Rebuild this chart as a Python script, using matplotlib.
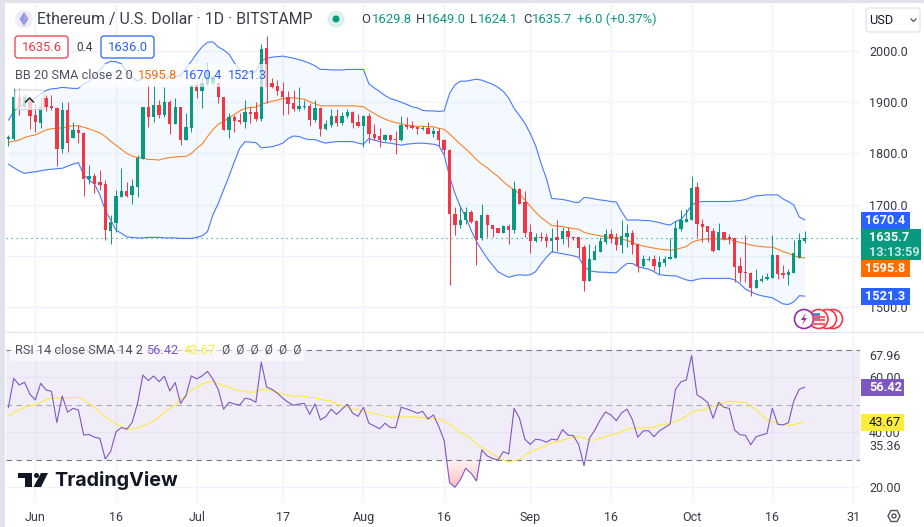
import numpy as np
import matplotlib
matplotlib.use('Agg')
import matplotlib.pyplot as plt
from matplotlib.patches import Rectangle, FancyBboxPatch, Circle, Polygon, PathPatch
from matplotlib.path import Path

plt.rcParams['font.family'] = ['Roboto', 'DejaVu Sans']

# days counted from 1 June, first candle is 27 May
first_day = -5

opens = [1829, 1829, 1911, 1891, 1904, 1875, 1860, 1909, 1893, 1889,
         1809, 1885, 1831, 1846, 1840, 1750, 1755, 1745, 1740, 1649,
         1665, 1715, 1727, 1719, 1735, 1790, 1891, 1872, 1895, 1875,
         1901, 1857, 1891, 1826, 1850, 1934, 1922, 1936, 1937, 1937,
         1910, 1846, 1872, 1865, 1862, 1881, 1880, 1868, 2005, 1938,
         1932, 1922, 1911, 1899, 1887, 1891,
         1893, 1865, 1888, 1848, 1855, 1873, 1860, 1873, 1881, 1861,
         1853, 1873, 1838, 1834, 1826, 1836, 1828, 1826, 1855, 1854,
         1852, 1847, 1850, 1838, 1844, 1827, 1807, 1682, 1660, 1669,
         1686, 1668, 1634, 1680, 1661, 1654, 1645, 1658, 1650, 1730,
         1705, 1646, 1628, 1637, 1637, 1629, 1636, 1632, 1649, 1636,
         1636, 1618, 1551, 1592, 1608, 1626, 1643, 1636, 1621, 1636,
         1645, 1624, 1580, 1592, 1593, 1579, 1585, 1593, 1596, 1652,
         1666, 1670, 1735, 1663, 1658, 1648, 1611, 1647, 1636, 1635,
         1581, 1569, 1567, 1538, 1550, 1554, 1557, 1602, 1566, 1563,
         1566, 1596, 1629.8]
highs = [1836, 1927, 1927, 1917, 1907, 1898, 1911, 1914, 1914, 1890,
         1901, 1901, 1862, 1855, 1842, 1777, 1761, 1768, 1749, 1680,
         1728, 1771, 1745, 1750, 1797, 1891, 1934, 1934, 1904, 1929,
         1904, 1909, 1891, 1878, 1934, 1937, 1947, 1976, 1953, 1940,
         1910, 1878, 1875, 1878, 1905, 1891, 1901, 2013, 2029, 1947,
         1943, 1940, 1921, 1923, 1929, 1904,
         1898, 1904, 1890, 1865, 1886, 1886, 1881, 1886, 1883, 1876,
         1875, 1878, 1857, 1849, 1838, 1836, 1844, 1874, 1872, 1864,
         1852, 1854, 1861, 1852, 1849, 1829, 1808, 1696, 1697, 1696,
         1689, 1670, 1701, 1682, 1661, 1654, 1660, 1662, 1746, 1732,
         1727, 1663, 1645, 1646, 1645, 1654, 1670, 1657, 1657, 1639,
         1637, 1621, 1623, 1621, 1637, 1653, 1652, 1644, 1670, 1662,
         1650, 1624, 1602, 1599, 1602, 1599, 1599, 1634, 1668, 1689,
         1692, 1756, 1745, 1671, 1658, 1655, 1665, 1647, 1642, 1635,
         1597, 1641, 1569, 1574, 1562, 1566, 1641, 1602, 1582, 1575,
         1631, 1644, 1649]
lows = [1815, 1826, 1875, 1888, 1847, 1842, 1850, 1883, 1885, 1776,
        1800, 1803, 1830, 1820, 1717, 1740, 1722, 1728, 1631, 1623,
        1647, 1715, 1715, 1701, 1715, 1790, 1852, 1862, 1870, 1872,
        1838, 1857, 1816, 1826, 1842, 1909, 1888, 1934, 1934, 1898,
        1846, 1830, 1842, 1857, 1849, 1860, 1864, 1864, 1898, 1927,
        1915, 1875, 1877, 1882, 1882, 1886,
        1853, 1862, 1834, 1846, 1851, 1853, 1855, 1870, 1849, 1852,
        1813, 1820, 1826, 1813, 1825, 1825, 1799, 1825, 1847, 1847,
        1838, 1846, 1837, 1833, 1814, 1797, 1543, 1641, 1654, 1663,
        1665, 1582, 1630, 1636, 1636, 1645, 1645, 1623, 1644, 1701,
        1637, 1605, 1627, 1628, 1618, 1608, 1610, 1623, 1618, 1631,
        1597, 1532, 1551, 1592, 1608, 1624, 1625, 1612, 1606, 1618,
        1604, 1568, 1578, 1589, 1571, 1564, 1580, 1593, 1596, 1649,
        1666, 1670, 1637, 1626, 1626, 1608, 1611, 1631, 1623, 1549,
        1549, 1548, 1522, 1538, 1548, 1552, 1557, 1555, 1556, 1543,
        1566, 1595, 1624.1]
closes = [1832, 1911, 1890, 1911, 1873, 1861, 1891, 1890, 1888, 1809,
          1885, 1820, 1846, 1839, 1750, 1755, 1740, 1738, 1650, 1667,
          1717, 1727, 1717, 1736, 1792, 1891, 1872, 1895, 1875, 1901,
          1857, 1891, 1826, 1852, 1934, 1922, 1937, 1963, 1950, 1910,
          1846, 1872, 1864, 1861, 1881, 1877, 1868, 2003, 1929, 1929,
          1922, 1911, 1897, 1886, 1893, 1892,
          1865, 1888, 1848, 1857, 1873, 1860, 1874, 1881, 1860, 1853,
          1873, 1838, 1831, 1826, 1836, 1826, 1826, 1855, 1851, 1850,
          1847, 1850, 1838, 1844, 1827, 1807, 1682, 1660, 1670, 1686,
          1667, 1630, 1680, 1660, 1652, 1645, 1658, 1650, 1730, 1702,
          1645, 1628, 1636, 1635, 1629, 1635, 1631, 1649, 1636, 1634,
          1616, 1551, 1594, 1610, 1628, 1643, 1633, 1621, 1639, 1645,
          1621, 1580, 1593, 1594, 1580, 1588, 1594, 1597, 1654, 1670,
          1672, 1733, 1663, 1656, 1646, 1610, 1646, 1633, 1633, 1579,
          1567, 1566, 1538, 1553, 1555, 1559, 1602, 1564, 1562, 1568,
          1605, 1631, 1635.7]

bb_upper = [1865, 1882, 1891, 1898, 1902, 1908, 1916, 1923, 1926, 1927,
            1929, 1928, 1927, 1927, 1936, 1940, 1951, 1963, 1975, 1980,
            1979, 1975, 1960, 1949, 1941, 1947, 1953, 1951, 1951, 1950,
            1949, 1950, 1952, 1966, 1980, 1995, 2008, 2017, 2018, 2008,
            2002, 1994, 1977, 1963, 1958, 1956, 1960, 1981, 1986, 1988,
            1989, 1990, 1988, 1986, 1983, 1980,
            1976, 1971, 1964, 1964, 1963, 1963, 1963, 1964, 1964, 1964,
            1964, 1936, 1928, 1921, 1913, 1907, 1904, 1900, 1896, 1891,
            1889, 1884, 1883, 1883, 1882, 1883, 1917, 1934, 1941, 1941,
            1943, 1945, 1943, 1939, 1935, 1929, 1921, 1908, 1888, 1874,
            1859, 1839, 1815, 1781, 1751, 1712, 1711, 1710, 1708, 1705,
            1704, 1714, 1713, 1711, 1709, 1708,
            1706, 1705, 1686, 1670, 1670, 1670, 1669, 1669, 1667, 1665,
            1662, 1660, 1667, 1671, 1683, 1699, 1705, 1706, 1706, 1706,
            1706, 1706, 1706, 1707, 1708, 1710, 1714, 1717, 1718, 1719,
            1719, 1719, 1711, 1706, 1699, 1676, 1670.4]
bb_lower = [1779, 1772, 1766, 1761, 1763, 1764, 1766, 1768, 1769, 1770,
            1771, 1775, 1779, 1782, 1758, 1748, 1740, 1719, 1689, 1670,
            1650, 1644, 1637, 1636, 1635, 1635, 1636, 1636, 1636, 1635,
            1635, 1635, 1634, 1634, 1634, 1636, 1639, 1647, 1680, 1702,
            1729, 1755, 1784, 1810, 1823, 1822, 1821, 1811, 1812, 1813,
            1816, 1820, 1829, 1834, 1833, 1829,
            1827, 1827, 1823, 1820, 1822, 1823, 1823, 1823, 1823, 1820,
            1818, 1829, 1826, 1823, 1821, 1820, 1818, 1816, 1818, 1819,
            1820, 1820, 1819, 1818, 1815, 1797, 1755, 1722, 1696, 1676,
            1650, 1628, 1611, 1595, 1582, 1569, 1563, 1558, 1561, 1563,
            1562, 1563, 1569, 1584, 1597, 1608, 1606, 1604, 1602, 1600,
            1597, 1579, 1571, 1569, 1568, 1568,
            1567, 1567, 1577, 1585, 1585, 1579, 1576, 1574, 1569, 1563,
            1562, 1561, 1561, 1557, 1553, 1551, 1554, 1556, 1556, 1556,
            1556, 1556, 1556, 1553, 1545, 1535, 1530, 1525, 1522, 1520,
            1518, 1512, 1506, 1505, 1510, 1522, 1521.3]
bb_basis = [1821, 1824, 1826, 1831, 1834, 1836, 1841, 1846, 1848, 1849,
            1850, 1852, 1854, 1854, 1851, 1848, 1844, 1840, 1833, 1824,
            1816, 1808, 1800, 1795, 1792, 1791, 1788, 1788, 1787, 1790,
            1792, 1793, 1794, 1794, 1800, 1810, 1818, 1833, 1846, 1857,
            1862, 1870, 1876, 1883, 1888, 1890, 1890, 1896, 1899, 1902,
            1904, 1907, 1908, 1909, 1907, 1906,
            1901, 1897, 1893, 1893, 1893, 1893, 1893, 1893, 1893, 1892,
            1891, 1884, 1878, 1872, 1867, 1863, 1860, 1858, 1855, 1854,
            1853, 1853, 1852, 1852, 1849, 1847, 1838, 1828, 1818, 1809,
            1799, 1788, 1779, 1772, 1763, 1755, 1745, 1736, 1729, 1721,
            1709, 1697, 1685, 1675, 1667, 1659, 1658, 1657, 1655, 1653,
            1652, 1646, 1643, 1641, 1639, 1637,
            1636, 1635, 1633, 1630, 1626, 1622, 1619, 1617, 1615, 1613,
            1612, 1611, 1612, 1615, 1618, 1626, 1630, 1632, 1633, 1633,
            1633, 1632, 1632, 1629, 1626, 1624, 1621, 1619, 1618, 1617,
            1617, 1613, 1608, 1605, 1600, 1597, 1595.8]

rsi = [49.1, 59.6, 57.2, 58.2, 53.8, 51.8, 57.8, 55.4, 54.9, 43.6,
       53.2, 47.3, 48.7, 48.1, 39.0, 39.2, 38.2, 37.8, 30.3, 33.0,
       40.2, 41.7, 41.1, 43.6, 50.5, 60.8, 58.8, 60.5, 58.4, 60.4,
       55.0, 58.1, 50.5, 53.3, 60.5, 59.4, 60.5, 62.1, 59.4, 55.6,
       48.4, 50.9, 50.3, 49.9, 52.4, 52.0, 50.9, 65.5, 56.4, 55.6,
       54.2, 52.4, 50.9, 49.8, 50.3, 50.5, 46.5, 50.3, 44.5, 45.7,
       48.4, 46.5, 48.4, 50.2, 46.9, 45.8, 49.1, 43.3, 42.3, 41.3,
       43.3, 41.7, 41.7, 49.1, 48.5, 47.8, 46.9, 47.6, 44.8, 46.3,
       42.1, 37.0, 21.7, 20.0, 22.7, 26.9, 25.1, 22.3, 33.6, 31.4,
       30.5, 29.9, 33.0, 32.1, 48.7, 45.1, 37.5, 35.6, 37.5, 37.2,
       36.4, 37.5, 37.2, 41.0, 39.0, 38.8, 35.6, 27.8, 37.8, 40.8,
       44.5, 47.4, 46.3, 44.2, 47.1, 48.4, 44.5, 38.2, 40.5, 40.6,
       38.4, 40.5, 41.7, 43.0, 55.6, 58.3, 59.0, 67.9, 53.6, 52.4,
       50.8, 45.1, 50.9, 49.1, 48.7, 40.8, 39.1, 38.9, 35.5, 38.4,
       39.0, 39.6, 48.7, 42.9, 42.7, 43.5, 51.4, 55.6, 56.42]
rsi_ma = [45.9, 47.1, 48.1, 49.1, 49.7, 49.9, 50.9, 51.8, 52.4, 52.4,
          52.5, 52.6, 52.7, 52.7, 51.9, 50.3, 49.1, 47.3, 45.7, 44.2,
          43.0, 42.1, 41.3, 41.3, 41.5, 42.3, 43.1, 44.1, 45.5, 47.3,
          48.7, 49.9, 51.8, 53.6, 55.4, 56.4, 57.6, 58.2, 58.4, 57.6,
          57.0, 56.4, 55.6, 55.1, 54.8, 54.5, 54.7, 55.5, 55.4, 55.0,
          54.5, 53.8, 53.5, 53.0, 53.1, 53.1, 52.7, 52.6, 52.0, 51.6,
          51.4, 50.3, 49.6, 49.1, 48.5, 48.1, 47.8, 47.3, 46.9, 46.3,
          45.9, 45.5, 45.5, 45.5, 45.6, 45.7, 45.5, 45.3, 45.1, 45.0,
          44.7, 44.1, 42.9, 41.5, 39.9, 38.9, 37.8, 35.8, 34.5, 33.3,
          32.1, 30.9, 29.9, 29.1, 29.6, 30.2, 31.6, 32.8, 33.7, 34.4,
          35.3, 36.1, 36.5, 37.1, 37.7, 38.3, 38.4, 37.9, 37.1, 37.2,
          37.8, 38.5, 39.0, 39.4, 40.2, 41.1, 41.5, 41.5, 41.6, 41.6,
          41.8, 42.7, 42.8, 43.4, 44.1, 44.7, 45.9, 47.3, 47.9, 48.1,
          48.4, 49.3, 50.2, 50.7, 51.3, 51.1, 51.0, 50.9, 49.6, 48.1,
          46.3, 44.5, 44.0, 43.1, 42.8, 42.5, 42.8, 43.3, 43.67]

date_ticks = [0, 15, 30, 46, 61, 76, 92, 107, 122, 137, 152]
date_labels = ['Jun', '16', 'Jul', '17', 'Aug', '16', 'Sep', '16', 'Oct', '16', '31']
price_ticks = [1500, 1600, 1700, 1800, 1900, 2000]
price_labels = ['1500.0', '', '1700.0', '1800.0', '1900.0', '2000.0']
rsi_ticks = [20, 40, 60]
rsi_extra_ticks = [35.36, 67.96]

up_color = '#089981'
down_color = '#f23645'
blue = '#2962ff'
orange = '#ff6d00'
purple = '#7e57c2'
yellow = '#ffeb3b'
grid_color = '#f0f3fa'
text_color = '#363a45'
frame_color = '#e0e3eb'

W, H = 924, 527
fig = plt.figure(figsize=(W / 100, H / 100), dpi=100, facecolor='white')


def pane(left, top, right, bottom):
    return fig.add_axes([left / W, 1 - bottom / H, (right - left) / W, (bottom - top) / H])


ax = pane(6, 4, 860, 332)
ax2 = pane(6, 333, 860, 502)
for a in (ax, ax2):
    for s in a.spines.values():
        s.set_visible(False)
    a.set_xlim(-5.45, 153.3)
    a.set_xticks(date_ticks)
    a.yaxis.tick_right()
    a.grid(True, color=grid_color, lw=1)
    a.set_axisbelow(True)
    a.tick_params(length=0, labelsize=9, labelcolor=text_color, pad=6.5)

ax.set_ylim(1451.2, 2091.8)
ax.set_yticks(price_ticks)
ax.set_yticklabels(price_labels)
ax.tick_params(axis='x', labelbottom=False)

ax2.set_ylim(14.65, 76.1)
ax2.set_yticks(rsi_ticks)
ax2.set_yticklabels(['%.2f' % v for v in rsi_ticks])
ax2.set_yticks(rsi_extra_ticks, minor=True)
ax2.set_yticklabels(['%.2f' % v for v in rsi_extra_ticks], minor=True)
ax2.tick_params(axis='y', which='minor', length=0, labelsize=9, labelcolor=text_color, pad=6.5)
ax2.set_xticklabels(date_labels)
ax2.tick_params(axis='x', pad=6.5)

# candles
days = np.arange(len(closes)) + first_day
o = np.array(opens)
h = np.array(highs)
l = np.array(lows)
c = np.array(closes)
colors = np.where(c >= o, up_color, down_color)

ax.fill_between(days, bb_lower, bb_upper, color='#2196f3', alpha=0.05, lw=0, zorder=1)
ax.plot(days, bb_upper, color=blue, lw=0.8, alpha=0.85, zorder=2)
ax.plot(days, bb_lower, color=blue, lw=0.8, alpha=0.85, zorder=2)
ax.plot(days, bb_basis, color=orange, lw=0.8, alpha=0.85, zorder=2)
ax.vlines(days, l, h, colors=colors, lw=0.7, zorder=3)
ax.bar(days, np.abs(c - o), bottom=np.minimum(o, c), width=0.62, color=colors, lw=0, zorder=4)
ax.axhline(closes[-1], color=up_color, lw=0.8, ls=(0, (1, 3.5)), zorder=5)

# rsi pane
ax2.axhspan(30, 70, color=purple, alpha=0.1, lw=0, zorder=1)
for lev, col in ((70, '#787b86'), (50, '#a9abb3'), (30, '#787b86')):
    ax2.axhline(lev, color=col, lw=0.8, ls=(0, (5, 4)), zorder=2)

# red gradient under the oversold level, clipped to the part of the line below 30
rsi_arr = np.array(rsi)
fill = ax2.fill_between(days, rsi_arr, 30, where=rsi_arr < 30, interpolate=True, color='none', lw=0)
rgba = np.zeros((64, 1, 4))
rgba[..., :3] = matplotlib.colors.to_rgb(down_color)
rgba[..., 3] = np.linspace(0.05, 0.32, 64).reshape(-1, 1)
im = ax2.imshow(rgba, extent=[days[0], days[-1], 20, 30], origin='upper', aspect='auto', zorder=2)
clip = fill.get_paths()[0]
im.set_clip_path(PathPatch(clip, transform=ax2.transData))
ax2.set_xlim(-5.45, 153.3)
ax2.set_ylim(14.65, 76.1)

ax2.plot(days, rsi_ma, color=yellow, lw=0.8, zorder=3)
ax2.plot(days, rsi, color=purple, lw=0.8, zorder=4)

# everything else sits on an overlay in pixel coordinates
ov = fig.add_axes([0, 0, 1, 1], facecolor='none')
ov.set_xlim(0, W)
ov.set_ylim(H, 0)
ov.axis('off')


def rect(x0, y0, x1, y1, color, **kw):
    ov.add_patch(Rectangle((x0, y0), x1 - x0, y1 - y0, color=color, lw=0, **kw))


def label(x, y, s, color=text_color, size=9, ha='left', **kw):
    return ov.text(x, y, s, color=color, fontsize=size, ha=ha, va='center', **kw)


rect(0, 0, W, 3, frame_color)
rect(0, 0, 5, H, frame_color)
rect(6, 332, W, 333.3, frame_color)

# title row
ov.add_patch(Circle((24, 19), 9, color='#eceef6', lw=0))
ov.add_patch(Polygon([(24, 12), (28.5, 19), (24, 26), (19.5, 19)], color='#8f9be8', lw=0))
ov.add_patch(Polygon([(24, 12), (28.5, 19), (24, 21)], color='#b39ddb', lw=0))
label(37, 19.5, 'Ethereum / U.S. Dollar · 1D · BITSTAMP', color='#3c3f49', size=11.4)
ov.add_patch(Circle((336, 19), 8.5, color='#dcf1ec', lw=0))
ov.add_patch(Circle((336, 19), 3.5, color=up_color, lw=0))
for x, s, col in ((361, 'O', text_color), (372, '1629.8', up_color), (415.5, 'H', text_color),
                  (426, '1649.0', up_color), (470, 'L', text_color), (478, '1624.1', up_color),
                  (523, 'C', text_color), (532, '1635.7', up_color), (577, '+6.0 (+0.37%)', up_color)):
    label(x, 19.5, s, color=col, size=9.4)

# buy / sell boxes
ov.add_patch(FancyBboxPatch((15, 36), 53, 22, boxstyle='round,pad=0,rounding_size=3', fc='white', ec=down_color, lw=0.9))
label(41.5, 47.5, '1635.6', color=down_color, ha='center', size=9.4)
label(85, 47.5, '0.4', size=8.5, ha='center')
ov.add_patch(FancyBboxPatch((101, 36), 53, 22, boxstyle='round,pad=0,rounding_size=3', fc='white', ec=blue, lw=0.9))
label(127.5, 47.5, '1636.0', color=blue, ha='center', size=9.4)

# BB legend
rect(12, 64, 267, 87, 'white', alpha=0.7)
label(15, 75.5, 'BB 20 SMA close 2 0', size=9.2, color='#50535e')
label(138, 75.5, '1595.8', color=orange, size=9.2)
label(183, 75.5, '1670.4', color=blue, size=9.2)
label(228, 75.5, '1521.3', color=blue, size=9.2)
ov.add_patch(FancyBboxPatch((15, 90), 29, 19.5, boxstyle='round,pad=0,rounding_size=2',
                            fc=(1, 1, 1, 0.72), ec='#d1d4dc', lw=0.8))
ov.plot([25.5, 29.5, 33.5], [102, 98, 102], color='#131722', lw=1)

# USD box
ov.add_patch(FancyBboxPatch((866, 8), 54, 24, boxstyle='round,pad=0,rounding_size=3', fc='white', ec=frame_color, lw=0.9))
label(869, 20, 'USD', color='#131722', size=9.2)
ov.plot([911, 913.5, 916], [19, 21.5, 19], color='#50535e', lw=0.9)

# price tags
for y0, y1, col, s in ((212, 229, blue, '1670.4'), (260, 277, orange, '1595.8'), (288, 305, blue, '1521.3')):
    rect(861, y0, 910, y1, col)
    label(885.5, (y0 + y1) / 2, s, color='white', ha='center', size=9.2, fontweight='bold')
rect(861, 229, 921, 260, up_color)
label(869, 237.5, '1635.7', color='white', size=9.2, fontweight='bold')
label(869, 252, '13:13:59', color='#c4e6de', size=9.2, fontweight='bold')

# event icons
for x in (833, 827):
    ov.add_patch(Circle((x, 319), 9.5, fc='white', ec=down_color, lw=1.2))
ov.add_patch(Circle((818.5, 319), 9.5, fc='white', ec=down_color, lw=1.2))
for y in (316.5, 320, 323.5):
    ov.plot([812, 825], [y, y], color='#f0616d', lw=1.6, solid_capstyle='butt')
ov.add_patch(Rectangle((812.5, 312.5), 7, 6, color='#5b86d6', lw=0))
ov.add_patch(Circle((804, 319), 9.5, fc='white', ec='#9c27b0', lw=1.2))
ov.add_patch(Polygon([(806, 313), (801, 320), (804, 320), (802, 325), (807, 318), (804, 318)], color='#9c27b0', lw=0))

# RSI legend
rect(10, 340, 304, 361, 'white', alpha=0.6)
label(15, 350, 'RSI 14 close SMA 14 2', size=9.2, color='#50535e')
label(146, 350, '56.42', color=purple, size=9.2)
label(184, 350, '43.67', color=yellow, size=9.2)
label(222, 350, 'Ø  Ø  Ø  Ø  Ø  Ø', size=8.6, color='#50535e')

# rsi tags
rect(861, 379, 904, 396, purple)
label(869, 387.5, '56.42', color='white', size=9.2, fontweight='bold')
rect(861, 414, 904, 431, yellow)
label(869, 422.5, '43.67', color='#131722', size=9.2)

# logo
ov.add_patch(Polygon([(18, 473), (32, 473), (32, 487), (25, 487), (25, 478), (18, 478)], color='#131722', lw=0))
ov.add_patch(Circle((36.5, 475.5), 2.5, color='#131722', lw=0))
ov.add_patch(Polygon([(41, 473), (48, 473), (41, 487), (33.5, 487)], color='#131722', lw=0))
label(54.5, 480.5, 'TradingView', color='#131722', size=14.2, fontweight='bold', family=['Inter', 'DejaVu Sans'])

# settings gear
ov.add_patch(Polygon([(888, 516), (891, 510.5), (897, 510.5), (900, 516), (897, 521.5), (891, 521.5)],
                     fc='none', ec='#50535e', lw=1))
ov.add_patch(Circle((894, 516), 2, fc='none', ec='#50535e', lw=1))

fig.savefig('out.png', dpi=100)
